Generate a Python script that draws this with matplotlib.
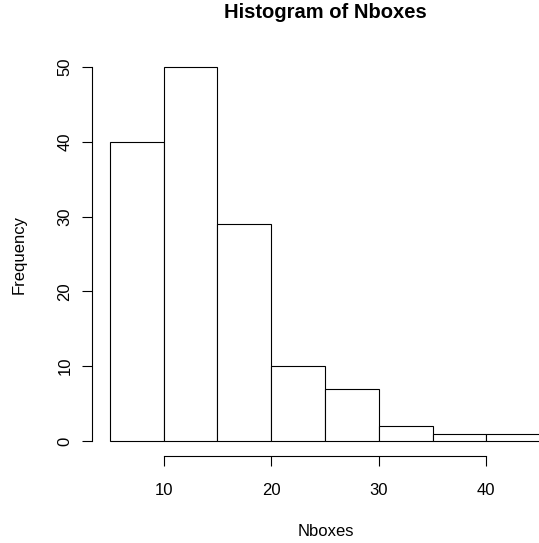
import matplotlib

matplotlib.use("Agg")
import matplotlib.pyplot as plt
import numpy as np

plt.rcParams["font.family"] = ["Liberation Sans", "DejaVu Sans"]

# histogram of Nboxes, bin width 5
bin_edges = [5, 10, 15, 20, 25, 30, 35, 40, 45]
counts = [40, 50, 29, 10, 7, 2, 1, 1]
x_ticks = [10, 20, 30, 40]
y_ticks = [0, 10, 20, 30, 40, 50]

W, H = 539, 543
fig = plt.figure(figsize=(W / 100, H / 100), dpi=100)
fig.patch.set_facecolor("white")
ax = fig.add_axes([92 / W, 1 - 456 / H, 1 - 92 / W, (456 - 52) / H])

edges = np.array(bin_edges)
ax.bar(edges[:-1], counts, width=np.diff(edges), align="edge",
       facecolor="white", edgecolor="black", linewidth=0.8)

ax.set_xlim(3.33, 44.9)
ax.set_ylim(-2, 52)

for side in ("top", "right"):
    ax.spines[side].set_visible(False)
ax.spines["left"].set_bounds(0, 50)
ax.spines["bottom"].set_bounds(10, 40)
for side in ("left", "bottom"):
    ax.spines[side].set_linewidth(0.8)

ax.set_xticks(x_ticks)
ax.set_yticks(y_ticks)
ax.set_yticklabels([str(v) for v in y_ticks], rotation=90, va="center")
ax.tick_params(axis="both", direction="out", length=7.2, width=0.8, labelsize=12)
ax.tick_params(axis="x", pad=12)
ax.tick_params(axis="y", pad=7)

fig.text(325 / W, 1 - 13 / H, "Histogram of Nboxes", ha="center", va="center",
         fontsize=14.5, fontweight="bold")
fig.text(326 / W, 1 - 531 / H, "Nboxes", ha="center", va="center", fontsize=12)
fig.text(19 / W, 1 - 254 / H, "Frequency", ha="center", va="center",
         rotation=90, fontsize=12)

fig.savefig("out.png", dpi=100)
plt.close(fig)
